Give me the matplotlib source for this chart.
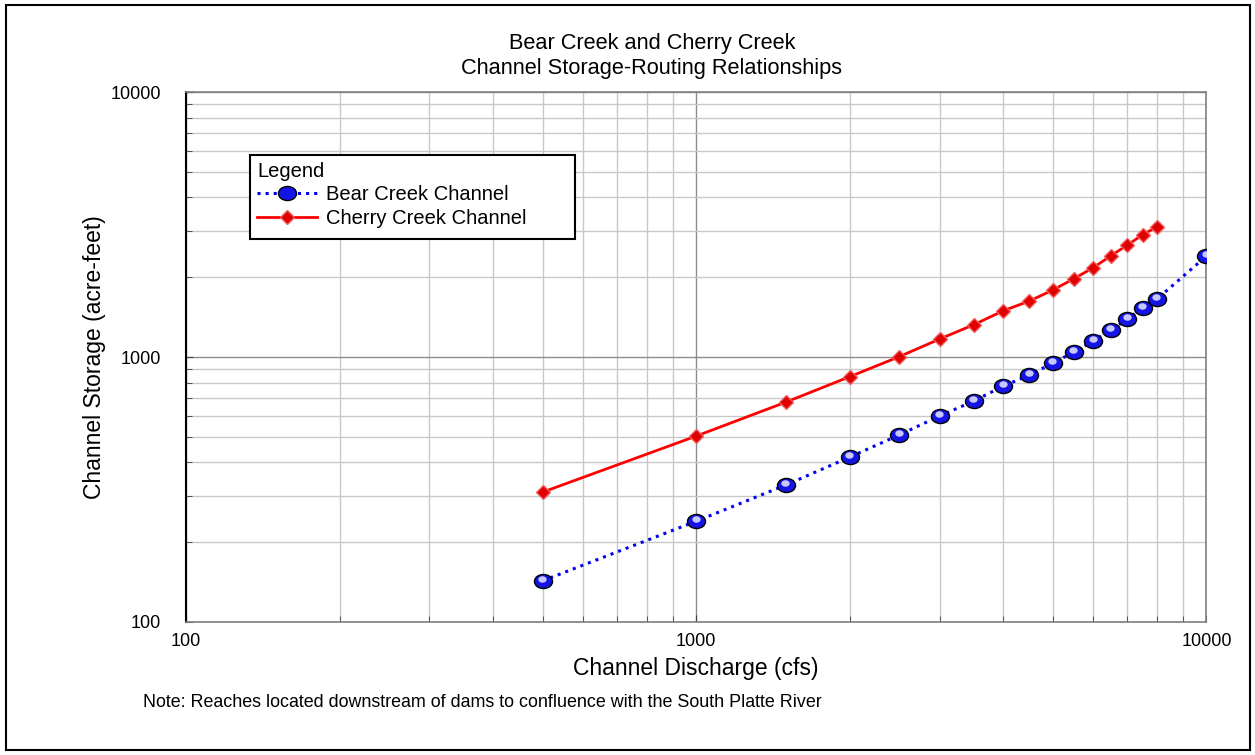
# bear creek / cherry creek channel storage-routing chart

import numpy as np
import matplotlib.pyplot as plt
from matplotlib.patches import Rectangle
from matplotlib.path import Path
from matplotlib.transforms import Affine2D, ScaledTranslation
from matplotlib.ticker import LogLocator, FixedLocator, NullFormatter

plt.rcParams['font.family'] = ['Liberation Sans', 'DejaVu Sans']

# data

bear_discharge = [500, 1000, 1500, 2000, 2500, 3000, 3500, 4000, 4500, 5000,
                  5500, 6000, 6500, 7000, 7500, 8000, 10000]
bear_storage = [143, 240, 329, 419, 508, 599, 682, 777, 855, 949,
                1044, 1149, 1264, 1391, 1531, 1655, 2405]

cherry_discharge = [500, 1000, 1500, 2000, 2500, 3000, 3500, 4000, 4500, 5000,
                    5500, 6000, 6500, 7000, 7500, 8000]
cherry_storage = [309, 503, 676, 843, 1003, 1169, 1324, 1495, 1627, 1790,
                  1975, 2173, 2412, 2646, 2894, 3102]

major_ticks = [100, 1000, 10000]
major_labels = ['100', '1000', '10000']

# flattened sphere marker
circle = Path.unit_circle()
ellipse = Path(Affine2D().scale(1.0, 0.78).transform(circle.vertices), circle.codes)

# figure

fig = plt.figure(figsize = (12.55, 7.55), dpi = 100)
ax = fig.add_axes([0.1482, 0.1762, 0.8131, 0.7019])

fig.patches.append(Rectangle((0.005, 0.006), 0.991, 0.988, transform = fig.transFigure,
                             fill = False, edgecolor = 'black', linewidth = 1.5))

ax.set_xscale('log')
ax.set_yscale('log')
ax.set_xlim(100, 10000)
ax.set_ylim(100, 10000)

ax.xaxis.set_major_locator(FixedLocator(major_ticks))
ax.yaxis.set_major_locator(FixedLocator(major_ticks))
ax.set_xticklabels(major_labels)
ax.set_yticklabels(major_labels)
ax.xaxis.set_minor_locator(LogLocator(base = 10, subs = np.arange(2, 10)))
ax.yaxis.set_minor_locator(LogLocator(base = 10, subs = np.arange(2, 10)))
ax.xaxis.set_minor_formatter(NullFormatter())
ax.yaxis.set_minor_formatter(NullFormatter())

ax.grid(which = 'major', color = '#8c8c8c', linewidth = 1)
ax.grid(which = 'minor', color = '#c8c8c8', linewidth = 1)
ax.set_axisbelow(True)

ax.tick_params(which = 'both', direction = 'in', labelsize = 13, color = '#404040')
ax.tick_params(axis = 'x', which = 'major', length = 5, pad = 8)
ax.tick_params(axis = 'y', which = 'major', length = 5, pad = 18)
ax.tick_params(which = 'minor', length = 4)

for side in ['top', 'right', 'bottom']:
    ax.spines[side].set_color('#808080')
    ax.spines[side].set_linewidth(1.2)
ax.spines['left'].set_color('black')
ax.spines['left'].set_linewidth(1.5)

ax.plot(bear_discharge, bear_storage, color = '#0000ee', linestyle = ':', linewidth = 2.2,
        marker = ellipse, markersize = 13, markerfacecolor = '#1414e6', markeredgecolor = 'black',
        markeredgewidth = 1, label = 'Bear Creek Channel', zorder = 3)
# sphere highlight
shine = ax.transData + ScaledTranslation(-0.5 / 72, 1.5 / 72, fig.dpi_scale_trans)
ax.plot(bear_discharge, bear_storage, linestyle = 'none', marker = ellipse, markersize = 6,
        markerfacecolor = '#dcdcff', markeredgecolor = 'none', alpha = 0.9,
        transform = shine, zorder = 4)

ax.plot(cherry_discharge, cherry_storage, color = '#ff0000', linestyle = '-', linewidth = 2,
        marker = 'D', markersize = 7, markerfacecolor = '#e00000', markeredgecolor = '#f06060',
        markeredgewidth = 1, label = 'Cherry Creek Channel', zorder = 3)

ax.set_xlabel('Channel Discharge (cfs)', fontsize = 16.5, labelpad = 5)
ax.set_ylabel('Channel Storage (acre-feet)', fontsize = 16.5, labelpad = 3)

fig.text(0.5195, 0.943, 'Bear Creek and Cherry Creek', ha = 'center', va = 'center', fontsize = 15.7)
fig.text(0.5195, 0.909, 'Channel Storage-Routing Relationships', ha = 'center', va = 'center', fontsize = 15.7)
fig.text(0.114, 0.069, 'Note: Reaches located downstream of dams to confluence with the South Platte River',
         ha = 'left', va = 'center', fontsize = 12.85)

# legend box drawn separately so it can be wider than its text
fig.patches.append(Rectangle((0.1992, 0.6834), 0.259, 0.1113, transform = fig.transFigure,
                             facecolor = 'white', edgecolor = 'black', linewidth = 1.5, zorder = 5))
leg = fig.legend(*ax.get_legend_handles_labels(), loc = 'upper left',
                 bbox_to_anchor = (0.2, 0.7935), title = 'Legend',
                 fontsize = 14.5, title_fontsize = 14.5, frameon = False,
                 borderpad = 0.3, labelspacing = 0.22,
                 handlelength = 3.0, handletextpad = 0.4, borderaxespad = 0)
leg._legend_box.align = 'left'
leg.set_zorder(6)

fig.savefig('out.png', dpi = 100)
